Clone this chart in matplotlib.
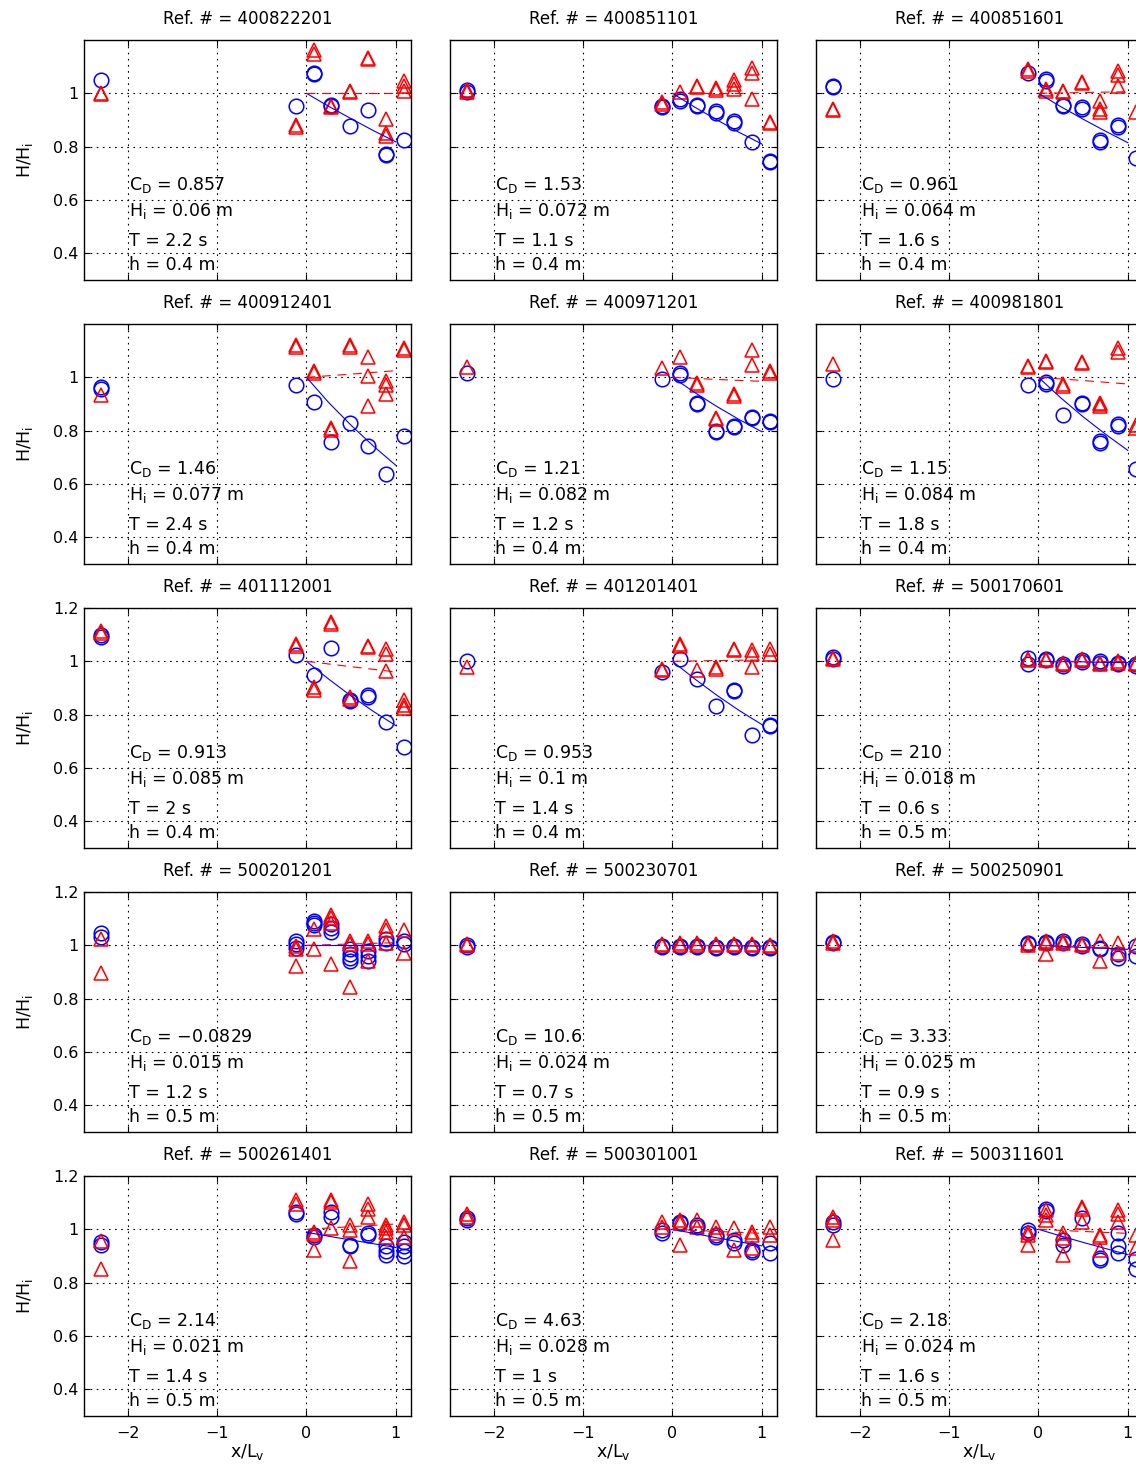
import numpy as np
import matplotlib
matplotlib.use("Agg")
import matplotlib.pyplot as plt

plt.rcParams['font.family'] = ['DejaVu Sans']
plt.rcParams['mathtext.default'] = 'regular'

# gauge positions (x/Lv), upstream gauge first
gauge_x = [-2.3, -0.12, 0.08, 0.28, 0.49, 0.69, 0.89, 1.09]

refs = ['400822201', '400851101', '400851601',
        '400912401', '400971201', '400981801',
        '401112001', '401201401', '500170601',
        '500201201', '500230701', '500250901',
        '500261401', '500301001', '500311601']

cd_text = ['0.857', '1.53', '0.961', '1.46', '1.21', '1.15', '0.913', '0.953',
           '210', '\u22120.0829', '10.6', '3.33', '2.14', '4.63', '2.18']
hi_text = ['0.06', '0.072', '0.064', '0.077', '0.082', '0.084', '0.085', '0.1',
           '0.018', '0.015', '0.024', '0.025', '0.021', '0.028', '0.024']
T_text = ['2.2', '1.1', '1.6', '2.4', '1.2', '1.8', '2', '1.4',
          '0.6', '1.2', '0.7', '0.9', '1.4', '1', '1.6']
h_text = ['0.4'] * 8 + ['0.5'] * 7

# H/Hi at each gauge (repeated runs) - circles (blue)
circles = [
    [[1.049], [0.954], [1.078, 1.072], [0.957, 0.951], [0.878], [0.938], [0.774, 0.768], [0.825]],
    [[1.012, 1.006], [0.954, 0.948], [0.979, 0.973], [0.957, 0.951], [0.932, 0.926], [0.896, 0.89], [0.818], [0.747, 0.741]],
    [[1.028, 1.022], [1.078], [1.053, 1.047], [0.957, 0.951], [0.948, 0.942], [0.825, 0.819], [0.88, 0.874], [0.757]],
    [[0.964, 0.958], [0.973], [0.907], [0.757], [0.827], [0.742], [0.636], [0.781]],
    [[1.016], [0.994], [1.016, 1.01], [0.905, 0.899], [0.8, 0.794], [0.819, 0.813], [0.853, 0.847], [0.837, 0.831]],
    [[0.994], [0.973], [0.981, 0.975], [0.858], [0.905, 0.899], [0.76, 0.754], [0.825, 0.819], [0.655]],
    [[1.097, 1.091], [1.025], [0.948], [1.049], [0.856, 0.85], [0.874, 0.868], [0.772], [0.677]],
    [[1.0], [0.96], [1.01], [0.932], [0.833], [0.893, 0.887], [0.723], [0.763, 0.757]],
    [[1.016, 1.01], [1.012, 0.99], [1.01, 1.004], [0.99, 0.984], [1.005, 0.999], [1.0, 0.994], [0.995, 0.989], [0.99, 0.984]],
    [[1.046, 1.031], [1.016, 1.004, 0.991], [1.093, 1.084, 1.078], [1.08, 1.065, 1.05], [0.985, 0.969, 0.954, 0.94],
     [0.979, 0.96, 0.942], [1.022, 1.01], [1.016, 1.004]],
    [[1.0, 0.995], [0.998, 0.992], [0.998, 0.992], [0.998, 0.992], [0.995, 0.989], [0.998, 0.992], [0.995, 0.989], [0.995, 0.989]],
    [[1.014, 1.008], [1.01, 1.004], [1.014, 1.008], [1.016, 1.01], [1.004, 0.998], [0.991, 0.985], [0.967, 0.954], [0.997, 0.96]],
    [[0.953, 0.942], [1.065, 1.056], [0.979, 0.973], [1.065, 1.047], [0.942, 0.936], [0.985, 0.979], [0.936, 0.92, 0.905],
     [0.954, 0.936, 0.917, 0.899]],
    [[1.041, 1.035], [0.998, 0.985], [1.028, 1.022], [1.016, 1.01], [0.979, 0.973], [0.96, 0.948], [0.923, 0.915], [0.948, 0.911]],
    [[1.028, 1.016], [0.998, 0.985], [1.078, 1.068], [0.96, 0.942], [1.041], [0.893, 0.886], [0.985, 0.936, 0.911], [0.89, 0.853]],
]

# triangles (red)
triangles = [
    [[0.997, 1.003], [0.88, 0.874], [1.164, 1.149], [0.954, 0.948], [1.01, 1.004], [1.133, 1.127], [0.905, 0.85, 0.84], [1.047, 1.028, 1.01]],
    [[1.012, 1.006], [0.967, 0.961], [1.004], [1.028, 1.022], [1.019, 1.013], [1.05, 1.035, 1.015], [1.096, 1.078, 0.98], [0.893, 0.887]],
    [[0.942, 0.938], [1.09, 1.084], [1.016, 1.01], [1.01, 1.004], [1.043, 1.037], [0.973, 0.942, 0.93], [1.084, 1.068, 1.028], [0.93]],
    [[0.935], [1.121, 1.115], [1.022, 1.016], [0.809, 0.803], [1.121, 1.115], [1.078, 1.004, 0.893], [0.985, 0.973, 0.936], [1.109, 1.103]],
    [[1.038], [1.035], [1.078], [0.979, 0.973], [0.849, 0.843], [0.936, 0.93], [1.102, 1.047], [1.022, 1.016]],
    [[1.051], [1.043, 1.037], [1.063, 1.057], [0.975, 0.969], [1.059, 1.053], [0.905, 0.899, 0.893], [1.109, 1.096], [0.82, 0.81]],
    [[1.112, 1.106], [1.065, 1.059], [0.905, 0.893], [1.146, 1.14], [0.865, 0.859], [1.059, 1.053], [1.047, 1.028, 0.964], [0.856, 0.837, 0.825]],
    [[0.98], [0.973, 0.967], [1.065, 1.059], [0.967], [0.979, 0.973], [1.047, 1.041], [1.043, 1.028, 0.977], [1.047, 1.028]],
    [[1.014, 1.008], [1.01, 1.004], [1.01, 1.004], [0.995, 0.989], [1.01, 1.004], [0.995, 0.989], [1.0, 0.994], [0.995, 0.989]],
    [[1.023, 0.897], [0.998, 0.985, 0.923], [1.063, 0.985], [1.115, 1.102, 1.084, 0.93], [1.016, 1.004, 0.843], [1.016, 1.004, 0.94],
     [1.072, 1.059, 1.01], [1.059, 0.973]],
    [[1.005, 1.0], [1.005, 1.0], [1.008, 1.002], [1.008, 1.002], [1.005, 1.0], [1.005, 1.0], [1.005, 1.0], [1.002, 0.997]],
    [[1.016, 1.01], [1.01, 1.0], [1.016, 1.01, 0.969], [1.016, 1.01], [1.004, 1.0], [1.016, 0.94], [1.01, 0.973], [1.0]],
    [[0.957, 0.853], [1.109, 1.096], [0.989, 0.981, 0.923], [1.109, 1.103, 1.004], [1.016, 0.998, 0.88], [1.096, 1.078, 1.047],
     [1.016, 1.004, 0.991, 0.973], [1.028, 1.016, 0.973]],
    [[1.056, 1.045], [1.028, 1.01], [1.035, 1.022, 0.94], [1.035, 1.01], [1.01, 0.985], [1.004, 0.923], [0.991, 0.979, 0.93], [1.01, 0.979]],
    [[1.047, 1.035, 0.96], [0.991, 0.979, 0.942], [1.072, 1.053, 1.035], [0.985, 0.967, 0.905], [1.084, 1.078, 1.028],
     [0.979, 0.973, 0.923], [1.072, 1.059, 1.028], [0.979, 0.93]],
]

# fitted decay curves
fit_x = [0, 0.25, 0.5, 0.75, 1.0]
blue_fit = [
    [1.0, 0.951, 0.905, 0.86, 0.818],
    [1.0, 0.948, 0.9, 0.853, 0.81],
    [1.0, 0.95, 0.903, 0.858, 0.815],
    [1.0, 0.905, 0.82, 0.742, 0.67],
    [1.0, 0.943, 0.89, 0.841, 0.796],
    [1.0, 0.923, 0.852, 0.787, 0.726],
    [1.0, 0.933, 0.87, 0.812, 0.759],
    [1.0, 0.934, 0.872, 0.815, 0.763],
    [1.0, 0.999, 0.998, 0.996, 0.995],
    [1.0, 1.0, 1.0, 1.0, 1.0],
    [1.0, 0.999, 0.999, 0.998, 0.997],
    [1.0, 0.996, 0.992, 0.989, 0.985],
    [0.989, 0.974, 0.96, 0.946, 0.932],
    [1.0, 0.984, 0.968, 0.953, 0.938],
    [1.0, 0.975, 0.951, 0.928, 0.905],
]
red_x = [0, 0.5, 1.0]
red_fit = [
    [1.0, 1.0, 1.0], [1.0, 1.0, 1.0], [1.0, 1.003, 1.006],
    [1.0, 1.012, 1.025], [1.0, 0.992, 0.985], [1.0, 0.988, 0.975],
    [1.0, 0.98, 0.96], [1.0, 1.003, 1.005], [1.0, 1.0, 1.0],
    [1.0, 1.005, 1.01], [1.0, 1.0, 1.0], [1.0, 0.995, 0.99],
    [1.0, 1.01, 1.02], [1.0, 0.992, 0.985], [1.0, 0.992, 0.985],
]

W, H = 1136, 1468
fig = plt.figure(figsize=(W / 100, H / 100), dpi=100)

col_left = [84, 450, 816]
row_top = [40, 324, 608, 892, 1176]
ax_w, ax_h = 327, 240
grid_ls = (0, (1.5, 4))

for i in range(15):
    r, c = divmod(i, 3)
    ax = fig.add_axes([col_left[c] / W, 1 - (row_top[r] + ax_h) / H, ax_w / W, ax_h / H])

    for k, xg in enumerate(gauge_x):
        ys = circles[i][k]
        ax.plot([xg] * len(ys), ys, 'o', mfc='none', mec='b', mew=1.1, ms=10.5)
    for k, xg in enumerate(gauge_x):
        ys = triangles[i][k]
        ax.plot([xg] * len(ys), ys, '^', mfc='none', mec='r', mew=1.1, ms=10.5)

    ax.plot(fit_x, blue_fit[i], '-', color='b', lw=0.8)
    ax.plot(red_x, red_fit[i], color='r', lw=0.8, dashes=(8, 6))

    ax.set_xlim(-2.49, 1.17)
    ax.set_ylim(0.3, 1.2)
    ax.set_xticks([-2, -1, 0, 1])
    if r < 2:
        ax.set_yticks([0.4, 0.6, 0.8, 1])
        ax.set_yticklabels(['0.4', '0.6', '0.8', '1'])
    else:
        ax.set_yticks([0.4, 0.6, 0.8, 1, 1.2])
        ax.set_yticklabels(['0.4', '0.6', '0.8', '1', '1.2'])
    ax.grid(True, color='k', ls=grid_ls, lw=0.8)
    ax.tick_params(direction='in', length=4, width=0.8, top=True, right=True,
                   labelsize=11.5)
    ax.tick_params(axis='x', pad=7)
    ax.tick_params(axis='y', pad=4)
    for sp in ax.spines.values():
        sp.set_linewidth(1.0)

    if c == 0:
        ax.set_ylabel('H/H$_i$', fontsize=12.5, labelpad=13)
    else:
        ax.set_yticklabels([])
    if r == 4:
        ax.set_xticklabels(['\u22122', '\u22121', '0', '1'])
        ax.set_xlabel('x/L$_v$', fontsize=12.5, labelpad=1)
    else:
        ax.set_xticklabels([])

    ax.set_title('Ref. # = ' + refs[i], fontsize=12, pad=11.5)

    ax.text(-1.99, 0.638, 'C$_D$ = ' + cd_text[i], fontsize=12.5, va='baseline')
    ax.text(-1.99, 0.539, 'H$_i$ = ' + hi_text[i] + ' m', fontsize=12.5, va='baseline')
    ax.text(-1.99, 0.428, 'T = ' + T_text[i] + ' s', fontsize=12.5, va='baseline')
    ax.text(-1.99, 0.336, 'h = ' + h_text[i] + ' m', fontsize=12.5, va='baseline')

fig.savefig('out.png', dpi=100)
